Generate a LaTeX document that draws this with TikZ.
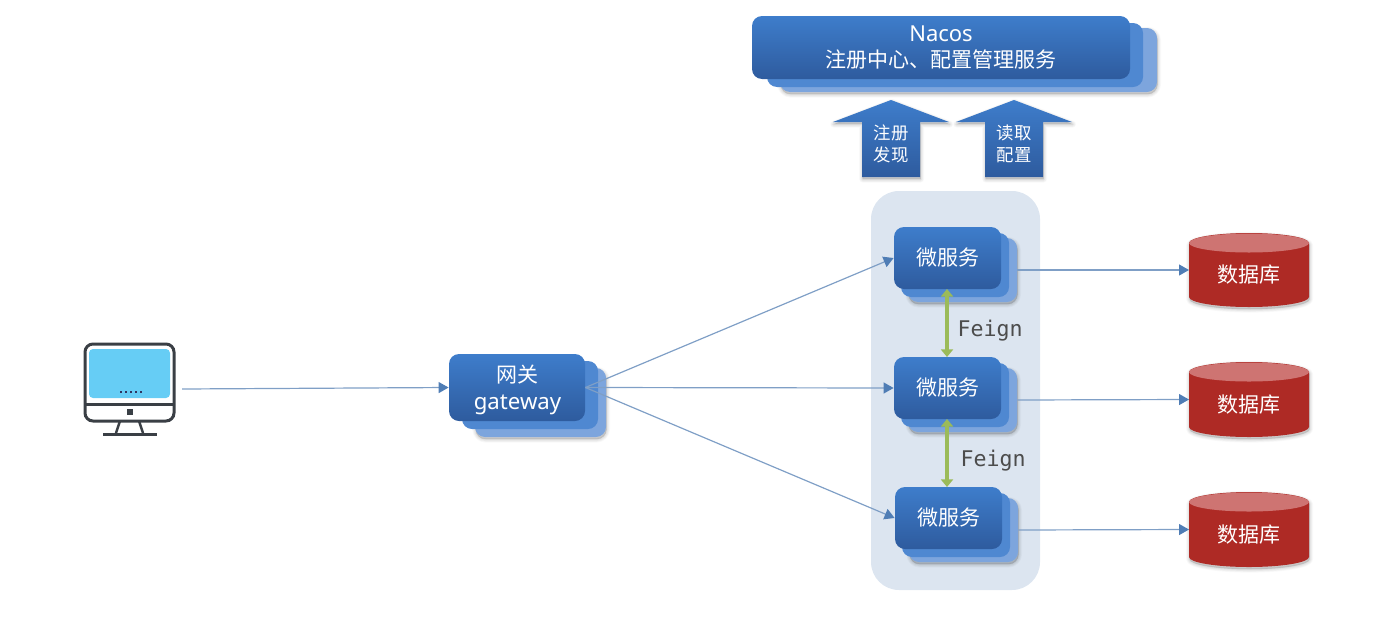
\documentclass[tikz,border=0pt]{standalone}
\usepackage{fontspec}
\setmainfont{Noto Sans}
\newfontfamily\cjk{Noto Sans CJK SC}
\setmonofont{DejaVu Sans Mono}
\usetikzlibrary{arrows.meta,calc}
\definecolor{ftop}{HTML}{3E7DCB}
\definecolor{fbot}{HTML}{2E5B9E}
\definecolor{midc}{HTML}{4F88D1}
\definecolor{backc}{HTML}{7DA5DD}
\definecolor{linec}{HTML}{7F9FC6}
\definecolor{tipc}{HTML}{4F7DB5}
\definecolor{feignc}{HTML}{9BBB59}
\definecolor{panelc}{HTML}{DCE5F0}
\definecolor{dbc}{HTML}{AE2A25}
\definecolor{dbtop}{HTML}{CE7472}
\definecolor{monc}{HTML}{3A3F45}
\definecolor{screenc}{HTML}{66CDF5}
\tikzset{
  softshadow/.style={
    preaction={draw=black,fill=black,opacity=.025,line join=round,line width=3.4pt,transform canvas={xshift=.3pt,yshift=-1.1pt}},
    preaction={draw=black,fill=black,opacity=.03,line join=round,line width=2.6pt,transform canvas={xshift=.3pt,yshift=-1.1pt}},
    preaction={draw=black,fill=black,opacity=.03,line join=round,line width=1.8pt,transform canvas={xshift=.3pt,yshift=-1.1pt}},
    preaction={draw=black,fill=black,opacity=.035,line join=round,line width=1pt,transform canvas={xshift=.3pt,yshift=-1.1pt}},
    preaction={draw=black,fill=black,opacity=.035,line join=round,line width=.3pt,transform canvas={xshift=.3pt,yshift=-1.1pt}}},
  layer/.style={inner sep=0pt,rounded corners=5pt},
  frontbox/.style={layer,top color=ftop,bottom color=fbot,text=white,align=center,font=\cjk\fontsize{10.5}{13}\selectfont},
  midbox/.style={layer,fill=midc},
  backbox/.style={layer,softshadow,fill=backc},
  conn/.style={draw=linec,line width=0.6pt,-{Triangle[length=5pt,width=5.5pt,fill=tipc,color=tipc]}},
  feignline/.style={draw=feignc,line width=2.1pt,{Triangle[length=3.8pt,width=6pt]}-{Triangle[length=3.8pt,width=6pt]}},
  feignlabel/.style={text=black!70,font=\ttfamily\fontsize{10.8}{12}\selectfont,inner sep=0pt},
  uparrow/.style={softshadow,top color=ftop,bottom color=fbot},
  arrowtext/.style={text=white,align=center,inner sep=0pt,font=\cjk\fontsize{8.7}{11.2}\selectfont},
  boxtext/.style={text=white,align=center,inner sep=0pt,font=\cjk\fontsize{10.5}{13}\selectfont},
  dbtext/.style={text=white,inner sep=0pt,font=\cjk\fontsize{10.5}{13}\selectfont},
  monline/.style={draw=monc,line width=1.5pt},
}
\newcommand{\placebox}[6]{%
  \pgfmathsetmacro{\bw}{(#5-#3)*0.5}\pgfmathsetmacro{\bh}{(#6-#4)*0.5}%
  \node[#1,minimum width=\bw pt,minimum height=\bh pt] (#2) at ({(#3+#5)/2},{(#4+#6)/2}) {};}
\newcommand{\placetext}[7]{%
  \pgfmathsetmacro{\bw}{(#5-#3)*0.5}\pgfmathsetmacro{\bh}{(#6-#4)*0.5}%
  \node[#1,minimum width=\bw pt,minimum height=\bh pt] (#2) at ({(#3+#5)/2},{(#4+#6)/2}) {#7};}
\newcommand{\cylinderdb}[4]{% name, top, bottom, text
  \pgfmathsetmacro{\cm}{(#2+#3)/2}%
  \path[softshadow,fill=dbc] (1189,#2+10) arc[start angle=180,end angle=360,x radius=60,y radius=10] -- (1309,#3-10) arc[start angle=0,end angle=180,x radius=60,y radius=10] -- cycle;
  \fill[dbtop] (1249,#2+10) ellipse[x radius=60,y radius=9.5];
  \node[dbtext] (#1t) at (1249,\cm+5) {#4};
  \coordinate (#1) at (1189,\cm);}
\begin{document}
\begin{tikzpicture}[x=0.5pt,y=-0.5pt]
\useasboundingbox (0,0) rectangle (1379,637);
% panel
\fill[panelc,rounded corners=14pt] (871,191) rectangle (1040,590);
% Nacos
\placebox{backbox}{nb}{780}{28}{1157}{92}
\placebox{midbox}{nm}{767}{23}{1143}{87}
\placetext{frontbox}{nacos}{752}{16}{1130}{79}{{\fontspec{Noto Sans}\fontsize{11}{13}\selectfont Nacos}\\注册中心、配置管理服务}
% up arrows
\path[uparrow] (891,100) -- (949,122) -- (920,122) -- (920,177) -- (862,177) -- (862,122) -- (833,122) -- cycle;
\path[uparrow] (1014,100) -- (1072,122) -- (1043,122) -- (1043,177) -- (985,177) -- (985,122) -- (956,122) -- cycle;
\node[arrowtext] (reg) at (891,144) {注册\\发现};
\node[arrowtext] (cfg) at (1014,144) {读取\\配置};
% gateway
\placebox{backbox}{gb}{475}{368}{606}{437}
\placebox{midbox}{gm}{462}{361}{598}{429}
\placebox{frontbox}{gw}{449}{354}{585}{421}
\node[boxtext] (gwt) at (517.5,390) {网关\\[0.5pt]{\fontspec{Noto Sans}\fontsize{11.1}{13}\selectfont gateway}};
% microservices
\placebox{backbox}{ab}{908}{238}{1017}{302}
\placebox{midbox}{am}{901}{233}{1009}{297}
\placetext{frontbox}{a}{894}{227}{1001}{289}{微服务}
\placebox{backbox}{bb}{908}{368}{1017}{432}
\placebox{midbox}{bm}{901}{363}{1009}{427}
\placetext{frontbox}{b}{894}{357}{1001}{419}{微服务}
\placebox{backbox}{cb}{909}{498}{1018}{562}
\placebox{midbox}{cm}{902}{493}{1010}{557}
\placetext{frontbox}{c}{895}{487}{1002}{549}{微服务}
% databases
\cylinderdb{d1}{233}{307}{数据库}
\cylinderdb{d2}{362}{437}{数据库}
\cylinderdb{d3}{492}{567}{数据库}
% monitor
\fill[screenc,rounded corners=2pt] (89,349) rectangle (170,398);
\draw[monline,rounded corners=4pt] (85,344) rectangle (174,421);
\draw[monline] (85,404) -- (174,404);
\fill[monc] (127,408.5) rectangle (133,415);
\draw[monline,line width=1.2pt] (120,421) -- (116,433) (139,421) -- (143,433);
\draw[monline] (103,434) -- (157,434);
\foreach \dx in {0,1,2,3,4} \fill[monc!85!blue] (119.5+\dx*5,390.5) rectangle +(2.8,2.8);
\coordinate (client) at (182,389);
% connectors
\draw[conn] (client) -- (gw.west);
\draw[conn] (gw.east) -- (a.west);
\draw[conn] (gw.east) -- (b.west);
\draw[conn] (gw.east) -- (c.west);
\draw[conn] (ab.east) -- (d1);
\draw[conn] (bb.east) -- (d2);
\draw[conn] (cb.east) -- (d3);
\draw[feignline] (947,289) -- (947,357);
\draw[feignline] (947,419) -- (947,487);
\node[feignlabel] (f1) at (990,331) {Feign};
\node[feignlabel] (f2) at (993,461) {Feign};
\end{tikzpicture}
\end{document}
